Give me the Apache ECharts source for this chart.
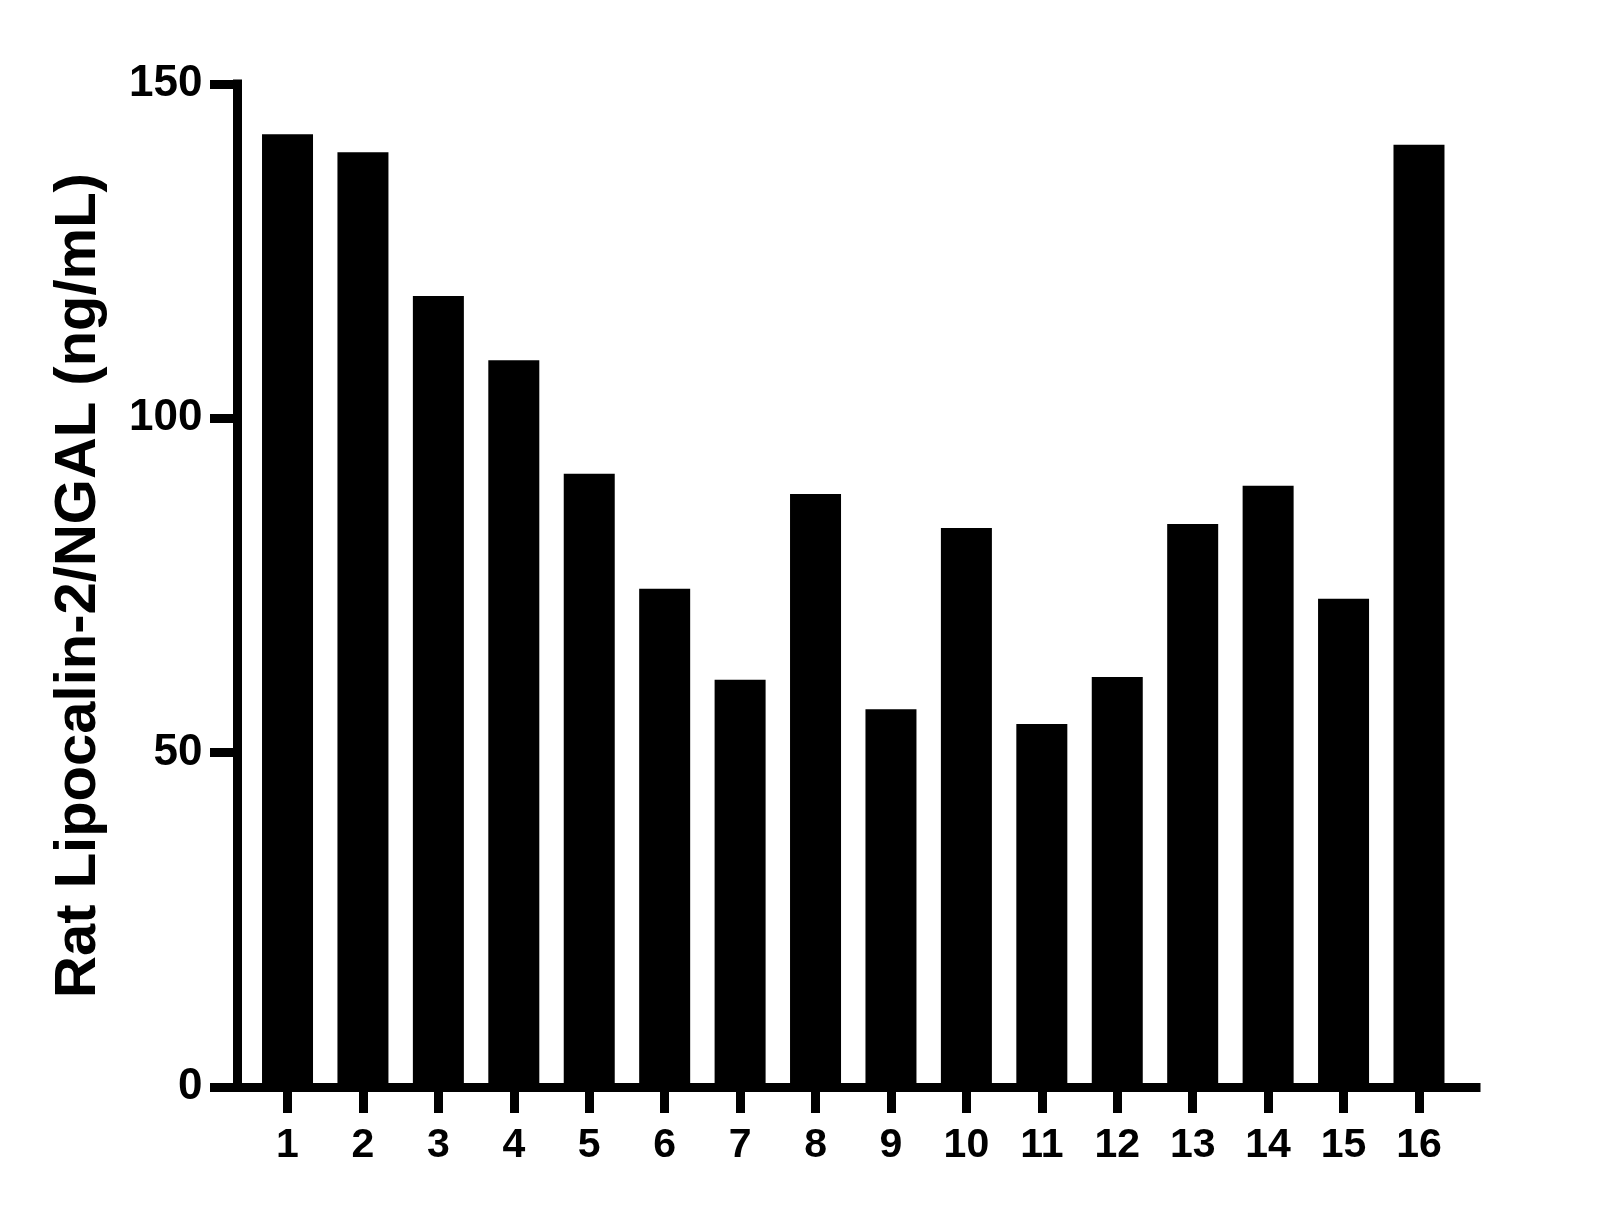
<!DOCTYPE html>
<html>
<head>
<meta charset="utf-8">
<script src="https://cdn.jsdelivr.net/npm/echarts@6/dist/echarts.min.js"></script>
<style>
  html, body { margin: 0; padding: 0; background: #fff; }
  #chart { width: 1611px; height: 1209px; }
</style>
</head>
<body>
<div id="chart"></div>
<script>
// samples 1..16
let categories = ['1', '2', '3', '4', '5', '6', '7', '8', '9', '10', '11', '12', '13', '14', '15', '16'];
let values = [142.5, 139.8, 118.3, 108.7, 91.7, 74.5, 60.9, 88.7, 56.5, 83.6, 54.3, 61.3, 84.2, 89.9, 73.0, 140.9];
let yTitle = 'Rat Lipocalin-2/NGAL (ng/mL)';
let yMin = 0, yMax = 150, yStep = 50;

let font = '"Liberation Sans", Arial, sans-serif';
let black = '#000';

var myChart = echarts.init(document.getElementById('chart'));

myChart.setOption({
  backgroundColor: '#fff',
  animation: false,
  grid: [
    // axis frame
    { left: 237.5, right: 135, top: 84, bottom: 122 },
    // bars, narrower so categories sit where the ticks are
    { left: 249.8, right: 154.3, top: 84, bottom: 122 }
  ],
  xAxis: [
    {
      gridIndex: 0,
      type: 'value',
      min: 0,
      max: 1,
      axisLine: { show: true, lineStyle: { color: black, width: 9, cap: 'square' } },
      axisTick: { show: false },
      axisLabel: { show: false },
      splitLine: { show: false }
    },
    {
      gridIndex: 1,
      type: 'category',
      data: categories,
      axisLine: { show: false },
      axisTick: { show: true, alignWithLabel: true, length: 26, lineStyle: { color: black, width: 9 } },
      axisLabel: { margin: 38, color: black, fontSize: 41, fontWeight: 'bold', fontFamily: font },
      splitLine: { show: false }
    }
  ],
  yAxis: [
    {
      gridIndex: 0,
      type: 'value',
      min: yMin,
      max: yMax,
      interval: yStep,
      name: yTitle,
      nameLocation: 'middle',
      nameRotate: 90,
      nameGap: 130,
      nameTextStyle: { color: black, fontSize: 58, fontWeight: 'bold', fontFamily: font },
      axisLine: { show: true, lineStyle: { color: black, width: 9, cap: 'square' } },
      axisTick: { show: true, length: 27.5, lineStyle: { color: black, width: 9 } },
      axisLabel: { margin: 35, color: black, fontSize: 44, fontWeight: 'bold', fontFamily: font },
      splitLine: { show: false }
    },
    {
      gridIndex: 1,
      type: 'value',
      min: yMin,
      max: yMax,
      interval: yStep,
      show: false
    }
  ],
  series: [
    {
      type: 'bar',
      xAxisIndex: 1,
      yAxisIndex: 1,
      data: values,
      barWidth: 51,
      itemStyle: { color: black },
      z: 1
    }
  ]
});
</script>
</body>
</html>
